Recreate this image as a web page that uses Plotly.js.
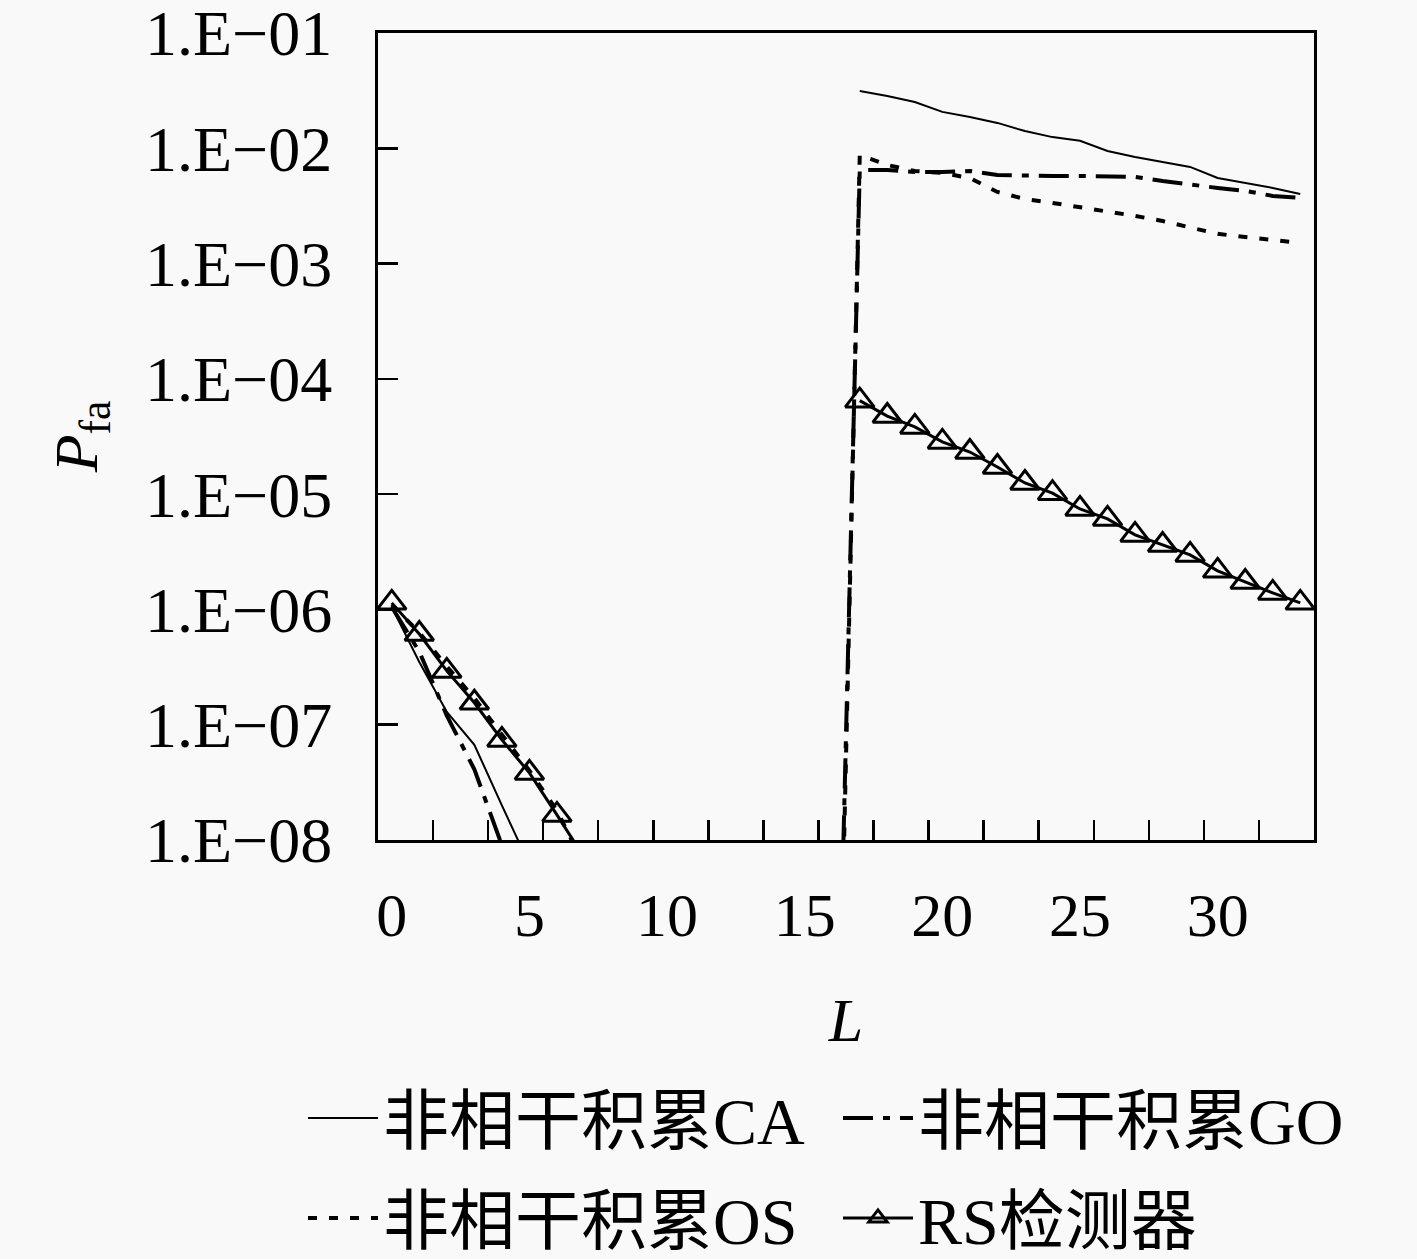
<!DOCTYPE html>
<html>
<head>
<meta charset="utf-8">
<script src="https://cdn.plot.ly/plotly-3.0.1.min.js"></script>
<style>
  html, body { margin: 0; padding: 0; background: rgb(249,249,249); }
  #chart { width: 1417px; height: 1259px; }
</style>
</head>
<body>
<div id="chart"></div>
<script>
// L (number of accumulated pulses)
var L = [0, 1, 2, 3, 4, 5, 6, 7, 8, 9, 10, 11, 12, 13, 14, 15, 16,
         17, 18, 19, 20, 21, 22, 23, 24, 25, 26, 27, 28, 29, 30, 31, 32, 33];

// false alarm probability (null = not drawn)
var caP = [1.05e-6, 3.5e-7, 1.29e-7, 6.7e-8, 2.0e-8, 6.1e-9,
           null, null, null, null, null, null, null, null, null, null, null,
           3.14e-2, 2.84e-2, 2.52e-2, 2.07e-2, 1.87e-2, 1.66e-2, 1.41e-2, 1.25e-2, 1.16e-2,
           9.48e-3, 8.41e-3, 7.61e-3, 6.89e-3, 5.52e-3, 5.00e-3, 4.53e-3, 4.02e-3];

var goP = [1.05e-6, 4.3e-7, 1.2e-7, 4.1e-8, 9e-9,
           null, null, null, null, null, null, null, null, null, null, null,
           1e-12,
           6.49e-3, 6.49e-3, 6.22e-3, 6.22e-3, 6.36e-3, 5.86e-3, 5.75e-3, 5.75e-3, 5.75e-3,
           5.75e-3, 5.64e-3, 5.20e-3, 4.81e-3, 4.53e-3, 4.27e-3, 3.86e-3, 3.71e-3];

var osP = [1.1e-6, 6.3e-7, 3.2e-7, 1.7e-7, 8.2e-8, 4.0e-8, 1.8e-8, 6e-9,
           null, null, null, null, null, null, null, null,
           3e-13,
           8.75e-3, 7.16e-3, 6.35e-3, 6.11e-3, 5.52e-3, 4.18e-3, 3.63e-3, 3.36e-3, 3.10e-3,
           2.81e-3, 2.59e-3, 2.34e-3, 2.04e-3, 1.81e-3, 1.70e-3, 1.60e-3, 1.51e-3];

var rsP = [1.14e-6, 6.12e-7, 2.93e-7, 1.55e-7, 7.38e-8, 3.82e-8, 1.65e-8, 7e-9,
           null, null, null, null, null, null, null, null, null,
           6.47e-5, 4.76e-5, 3.83e-5, 2.84e-5, 2.32e-5, 1.72e-5, 1.25e-5, 1.02e-5, 7.44e-6,
           6.10e-6, 4.43e-6, 3.62e-6, 2.97e-6, 2.16e-6, 1.73e-6, 1.39e-6, 1.14e-6];

var seriesNames = ['非相干积累CA', '非相干积累GO', '非相干积累OS', 'RS检测器'];

var yTickVals = [1e-8, 1e-7, 1e-6, 1e-5, 1e-4, 1e-3, 1e-2, 1e-1];
var yTickText = ['1.E−08', '1.E−07', '1.E−06', '1.E−05', '1.E−04', '1.E−03', '1.E−02', '1.E−01'];
var xTickVals = [0, 5, 10, 15, 20, 25, 30];
var xMinorVals = [1.5, 3.5, 5.5, 7.5, 9.5, 11.5, 13.5, 15.5, 17.5, 19.5, 21.5, 23.5, 25.5, 27.5, 29.5, 31.5];

var serif = 'Liberation Serif, Noto Sans CJK SC, serif';

var traces = [
  {x: L, y: caP, name: seriesNames[0], type: 'scatter', mode: 'lines',
   line: {color: '#000', width: 2}, legend: 'legend'},
  {x: L, y: goP, name: seriesNames[1], type: 'scatter', mode: 'lines',
   line: {color: '#000', width: 4, dash: '30px,10px,7px,10px'}, legend: 'legend2'},
  {x: L, y: osP, name: seriesNames[2], type: 'scatter', mode: 'lines',
   line: {color: '#000', width: 4, dash: '9px,12px'}, legend: 'legend3'},
  {x: L, y: rsP, name: seriesNames[3], type: 'scatter', mode: 'lines+markers',
   line: {color: '#000', width: 3},
   marker: {symbol: 'triangle-up-open', size: 25, color: '#000', line: {width: 3, color: '#000'}},
   legend: 'legend4'}
];

// one legend per entry so each sits where the reference puts it
function legendAt(px, py) {
  return {
    orientation: 'h',
    xref: 'container', yref: 'container',
    x: px / 1417, y: 1 - py / 1259,
    xanchor: 'left', yanchor: 'middle',
    itemwidth: 70,
    bgcolor: 'rgba(0,0,0,0)',
    font: {family: serif, size: 66, color: '#000'}
  };
}

var layout = {
  width: 1417,
  height: 1259,
  paper_bgcolor: 'rgb(249,249,249)',
  plot_bgcolor: 'rgb(249,249,249)',
  margin: {l: 378, r: 103, t: 33, b: 419},
  font: {family: serif, size: 62, color: '#000'},
  showlegend: true,
  xaxis: {
    range: [-0.5, 33.5],
    tickmode: 'array',
    tickvals: xTickVals,
    ticks: '',
    ticklabelstandoff: 19,
    tickfont: {size: 62},
    showgrid: false,
    zeroline: false,
    showline: true,
    mirror: true,
    linecolor: '#000',
    linewidth: 3,
    minor: {tickmode: 'array', tickvals: xMinorVals, ticks: 'inside', ticklen: 20,
            tickwidth: 2.5, tickcolor: '#000', showgrid: false},
    title: {text: '<i>L</i>', font: {size: 62}, standoff: 50}
  },
  yaxis: {
    type: 'log',
    range: [-8, -1],
    tickmode: 'array',
    tickvals: yTickVals,
    ticktext: yTickText,
    ticks: 'inside',
    ticklen: 20,
    tickwidth: 2.5,
    tickcolor: '#000',
    ticklabelstandoff: 30,
    ticklabeloverflow: 'allow',
    tickfont: {size: 64},
    showgrid: false,
    zeroline: false,
    showline: true,
    mirror: true,
    linecolor: '#000',
    linewidth: 3,
    title: {text: '<i>P</i><sub>fa</sub>', font: {size: 62}, standoff: 28}
  },
  legend: legendAt(303, 1118),
  legend2: legendAt(838, 1118),
  legend3: legendAt(303, 1218),
  legend4: legendAt(838, 1218)
};

Plotly.newPlot('chart', traces, layout, {displayModeBar: false, staticPlot: true});
</script>
</body>
</html>
